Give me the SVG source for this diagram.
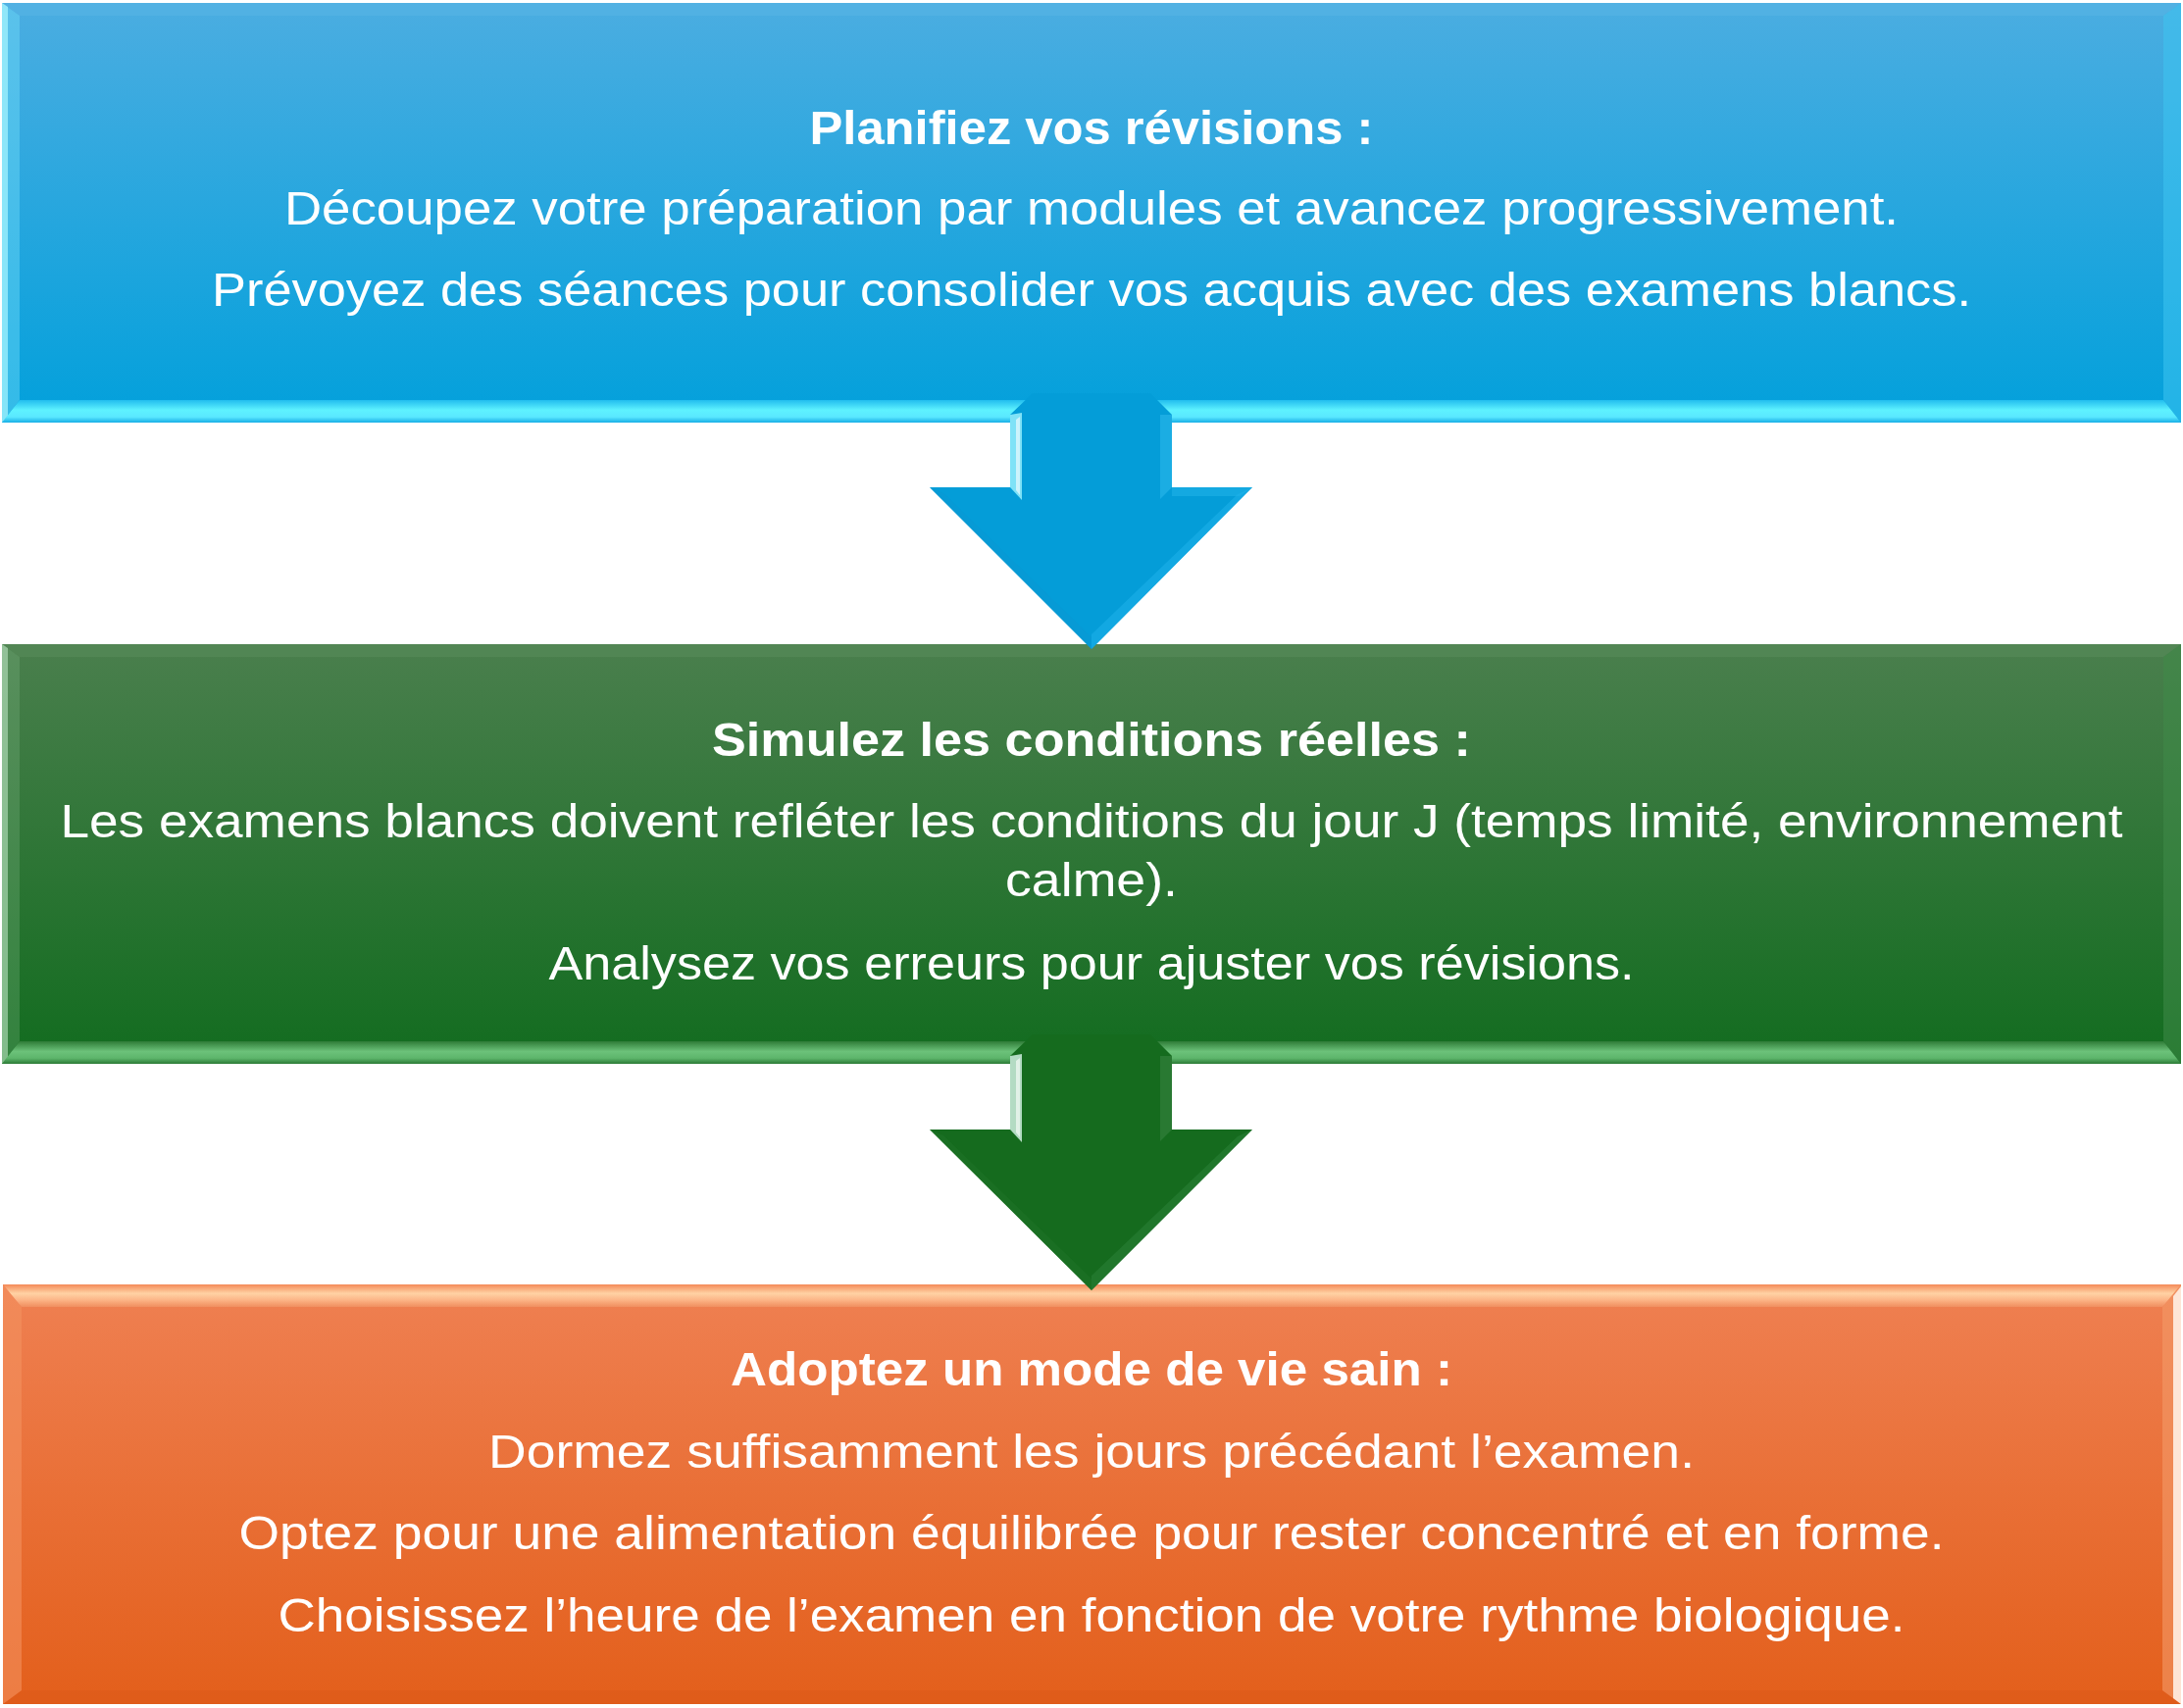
<svg xmlns="http://www.w3.org/2000/svg" width="2226" height="1742" viewBox="0 0 2226 1742">
<defs>
<linearGradient id="gBlue" x1="0" y1="0" x2="0" y2="1"><stop offset="0" stop-color="#4badE1"/><stop offset="1" stop-color="#02a0db"/></linearGradient>
<linearGradient id="gGreen" x1="0" y1="0" x2="0" y2="1"><stop offset="0" stop-color="#4a7f4d"/><stop offset="1" stop-color="#126c1f"/></linearGradient>
<linearGradient id="gOrange" x1="0" y1="0" x2="0" y2="1"><stop offset="0" stop-color="#ef8052"/><stop offset="1" stop-color="#e35f1b"/></linearGradient>
<linearGradient id="bBlueBot" x1="0" y1="0" x2="0" y2="1"><stop offset="0" stop-color="#22bdee"/><stop offset="0.45" stop-color="#5ef2ff"/><stop offset="0.75" stop-color="#5ae8ff"/><stop offset="1" stop-color="#18aee6"/></linearGradient>
<linearGradient id="bGreenBot" x1="0" y1="0" x2="0" y2="1"><stop offset="0" stop-color="#2f7c37"/><stop offset="0.45" stop-color="#6cc27a"/><stop offset="0.75" stop-color="#5db56b"/><stop offset="1" stop-color="#2b7a35"/></linearGradient>
<linearGradient id="bOrangeTop" x1="0" y1="0" x2="0" y2="1"><stop offset="0" stop-color="#f48a58"/><stop offset="0.4" stop-color="#ffd2a4"/><stop offset="0.7" stop-color="#fcb385"/><stop offset="1" stop-color="#f08e5f"/></linearGradient>
</defs>
<style>
.t{font-family:"Liberation Sans",Arial,sans-serif;font-size:49px;fill:#ffffff;text-anchor:middle}
.b{font-weight:bold}
</style>

<g id="box1">
<rect x="2" y="3" width="2222" height="428" fill="url(#gBlue)"/>
<polygon points="2,3 2224,3 2206,16 20,16" fill="#56b4e5" opacity="0.6"/>
<polygon points="2,3 20,16 20,408 2,431" fill="#6fdcf8" opacity="0.45"/>
<polygon points="2,3 8,7 8,427 2,431" fill="#a8f6ff" opacity="0.7"/>
<polygon points="2224,3 2206,16 2206,408 2224,431" fill="#3ec4f0" opacity="0.55"/>
<polygon points="2,431 20,408 2206,408 2224,431" fill="url(#bBlueBot)"/>
<text class="t b" x="1113" y="147" textLength="575" lengthAdjust="spacingAndGlyphs">Planifiez vos révisions :</text>
<text class="t" x="1113" y="229" textLength="1646" lengthAdjust="spacingAndGlyphs">Découpez votre préparation par modules et avancez progressivement.</text>
<text class="t" x="1113" y="312" textLength="1794" lengthAdjust="spacingAndGlyphs">Prévoyez des séances pour consolider vos acquis avec des examens blancs.</text>
</g>

<g id="box2">
<rect x="2" y="657" width="2222" height="428" fill="url(#gGreen)"/>
<polygon points="2,657 2224,657 2206,670 20,670" fill="#5a8d5c" opacity="0.5"/>
<polygon points="2,657 20,670 20,1062 2,1085" fill="#7fb686" opacity="0.3"/>
<polygon points="2,657 8,661 8,1081 2,1085" fill="#b9e2bf" opacity="0.6"/>
<polygon points="2224,657 2206,670 2206,1062 2224,1085" fill="#3f8a48" opacity="0.55"/>
<polygon points="2,1085 20,1062 2206,1062 2224,1085" fill="url(#bGreenBot)"/>
<text class="t b" x="1113" y="771" textLength="774" lengthAdjust="spacingAndGlyphs">Simulez les conditions réelles :</text>
<text class="t" x="1113" y="854" textLength="2103" lengthAdjust="spacingAndGlyphs">Les examens blancs doivent refléter les conditions du jour J (temps limité, environnement</text>
<text class="t" x="1113" y="914" textLength="176" lengthAdjust="spacingAndGlyphs">calme).</text>
<text class="t" x="1113" y="999" textLength="1107" lengthAdjust="spacingAndGlyphs">Analysez vos erreurs pour ajuster vos révisions.</text>
</g>

<g id="box3">
<rect x="3" y="1310" width="2221" height="428" fill="url(#gOrange)"/>
<polygon points="3,1738 22,1724 2205,1724 2224,1738" fill="#d9581a" opacity="0.4"/>
<polygon points="3,1310 22,1333 22,1724 3,1738" fill="#f3915f" opacity="0.6"/>
<polygon points="2224,1310 2205,1333 2205,1724 2224,1738" fill="#f39a68" opacity="0.6"/>
<polygon points="2224,1312 2216,1322 2216,1732 2224,1738" fill="#fff0e4" opacity="0.9"/>
<polygon points="3,1310 2224,1310 2205,1333 22,1333" fill="url(#bOrangeTop)"/>
<text class="t b" x="1113" y="1413" textLength="736" lengthAdjust="spacingAndGlyphs">Adoptez un mode de vie sain :</text>
<text class="t" x="1113" y="1497" textLength="1230" lengthAdjust="spacingAndGlyphs">Dormez suffisamment les jours précédant l’examen.</text>
<text class="t" x="1113" y="1580" textLength="1739" lengthAdjust="spacingAndGlyphs">Optez pour une alimentation équilibrée pour rester concentré et en forme.</text>
<text class="t" x="1113" y="1664" textLength="1659" lengthAdjust="spacingAndGlyphs">Choisissez l’heure de l’examen en fonction de votre rythme biologique.</text>
</g>

<g id="connectors">
<g id="arrow1">
<polygon points="1053,401 1173,401 1195,423 1195,497 1277,497 1113,662 948,497 1030,497 1030,423" fill="#049dd8"/>
<polygon points="1030,423 1042,421 1042,510 1030,497" fill="#9ff4ff" opacity="0.8"/>
<polygon points="1036,428 1040,425 1040,505 1036,500" fill="#ffffff" opacity="0.6"/>
<polygon points="1183,423 1195,423 1195,497 1183,509" fill="#25b3e8" opacity="0.7"/>
<polygon points="1195,497 1277,497 1264,506 1195,506" fill="#1fb0e8" opacity="0.6"/>
<polygon points="1277,497 1113,662 1113,647 1262,504" fill="#20b4ec" opacity="0.5"/>
<polygon points="948,497 1113,662 1113,650 962,503" fill="#0a97d2" opacity="0.5"/>
</g>
<g id="arrow2">
<polygon points="1053,1055 1173,1055 1195,1077 1195,1152 1277,1152 1113,1316 948,1152 1030,1152 1030,1077" fill="#156b1e"/>
<polygon points="1030,1077 1042,1075 1042,1165 1030,1152" fill="#cfeee0" opacity="0.85"/>
<polygon points="1036,1082 1040,1079 1040,1160 1036,1155" fill="#ffffff" opacity="0.6"/>
<polygon points="1183,1077 1195,1077 1195,1152 1183,1164" fill="#2e7d37" opacity="0.8"/>
<polygon points="1277,1152 1113,1316 1113,1301 1262,1159" fill="#2a7f35" opacity="0.6"/>
<polygon points="948,1152 1113,1316 1113,1304 962,1158" fill="#1f7428" opacity="0.5"/>
</g>
</g>
</svg>
